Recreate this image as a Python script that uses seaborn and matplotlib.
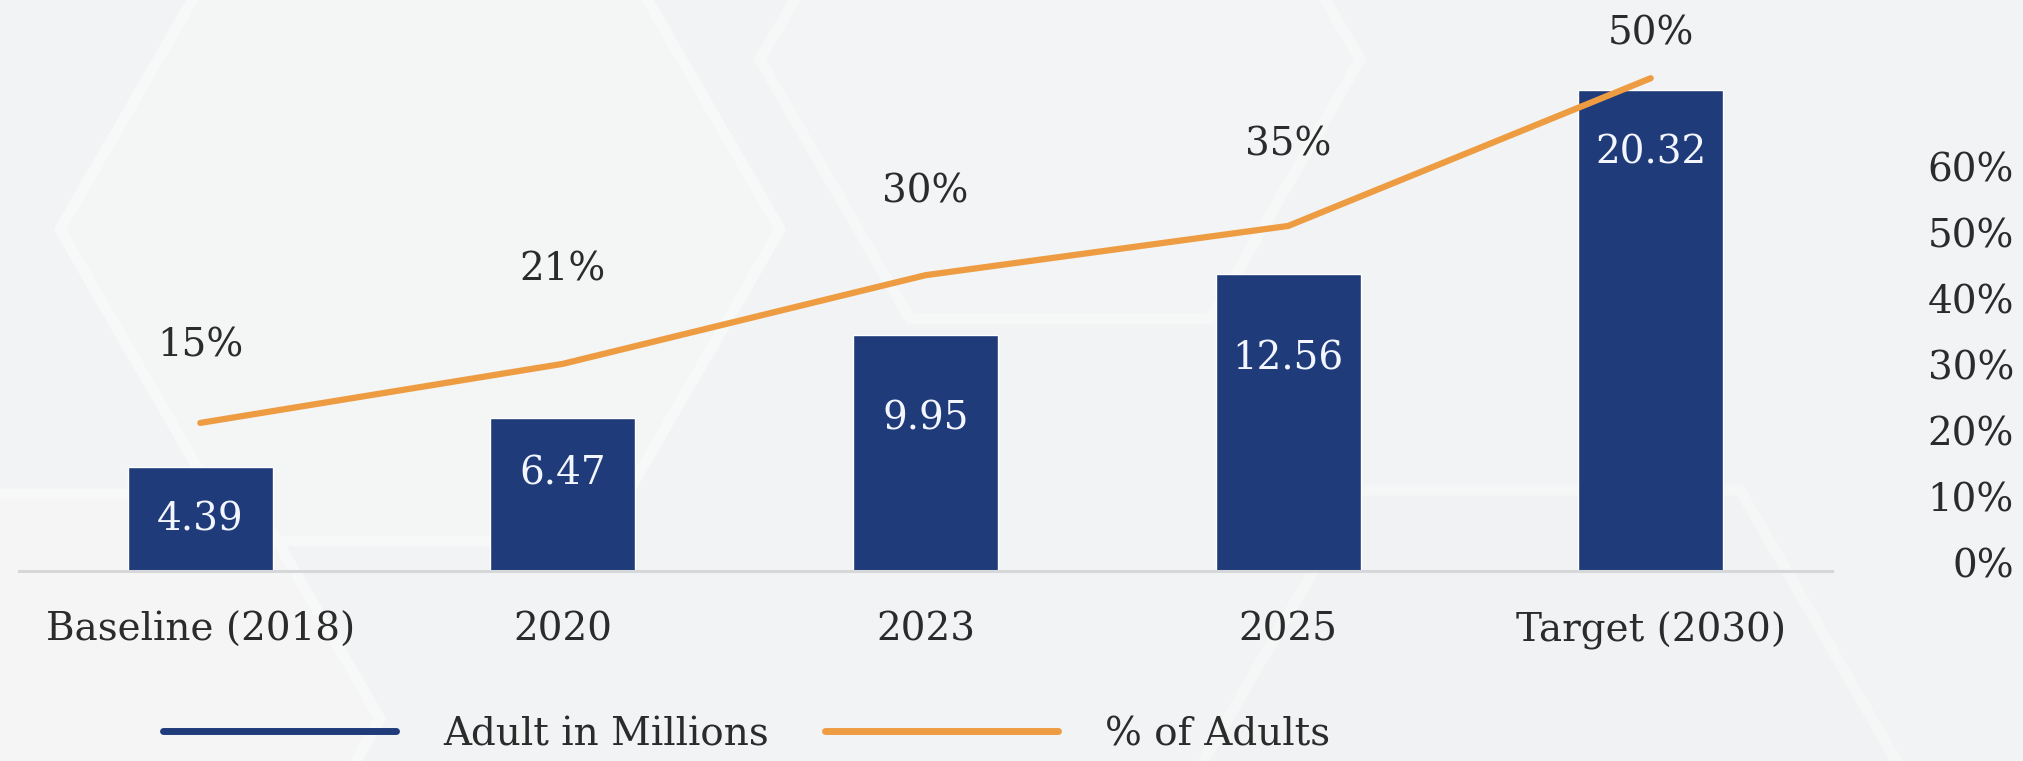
import numpy as np
import matplotlib
matplotlib.use("Agg")
import matplotlib.pyplot as plt
from matplotlib.patches import RegularPolygon
import seaborn as sns

# Data
categories = ["Baseline (2018)", "2020", "2023", "2025", "Target (2030)"]
adults_millions = [4.39, 6.47, 9.95, 12.56, 20.32]
pct_adults = [15, 21, 30, 35, 50]
pct_ticks = [0, 10, 20, 30, 40, 50, 60]

# Label placement (points)
pct_label_offsets = [56, 68, 60, 59, 32]
bar_label_offsets = [38, 40, 60, 61, 45]

BAR_COLOR = "#1f3b7a"
LINE_COLOR = "#ee9c42"
TEXT_COLOR = "#2b2b2b"
BG_COLOR = "#f2f3f4"
FONT = ["DejaVu Serif"]
FS = 28

sns.set_theme(style="white")
plt.rcParams["font.family"] = FONT

fig = plt.figure(figsize=(20.24, 7.615), dpi=100, facecolor=BG_COLOR)

# Soft hexagon backdrop
bg = fig.add_axes([0, 0, 1, 1], zorder=-10)
bg.set_xlim(0, 2024)
bg.set_ylim(762, 0)
bg.axis("off")
bg.set_facecolor(BG_COLOR)
for (cx, cy, r, fc, ec) in [
    (420, 230, 360, "#f4f5f5", "#f7f8f8"),
    (1060, 60, 300, "#f3f4f5", "#f6f7f7"),
    (120, 720, 260, "#f5f5f6", "#f7f8f8"),
    (1550, 820, 380, "#f1f2f3", "#f5f6f6"),
]:
    bg.add_patch(RegularPolygon((cx, cy), numVertices=6, radius=r,
                                orientation=np.pi / 6, facecolor=fc,
                                edgecolor=ec, linewidth=8))

# Main axes: bars
ax = fig.add_axes([19 / 2024, 0.25, 1813 / 2024, 0.6828])
ax.set_facecolor("none")
sns.barplot(x=categories, y=adults_millions, color=BAR_COLOR, width=0.4,
            saturation=1, ax=ax, zorder=2)
ax.set_xlim(-0.5, 4.5)
ax.set_ylim(0, 22)
ax.set_ylabel("")
ax.set_yticks([])
for side in ["left", "right", "top"]:
    ax.spines[side].set_visible(False)
ax.spines["bottom"].set_color("#d6d7d9")
ax.spines["bottom"].set_linewidth(2.2)
ax.tick_params(axis="x", length=0, pad=29, labelsize=FS, labelcolor=TEXT_COLOR)

for i, (v, off) in enumerate(zip(adults_millions, bar_label_offsets)):
    ax.annotate(f"{v:.2f}", (i, v), xytext=(0, -off), textcoords="offset points",
                ha="center", va="center", fontsize=FS, color="#f3f6ff", zorder=5)

# Secondary axes: percentage line
ax2 = ax.twinx()
sns.lineplot(x=categories, y=pct_adults, sort=False, color=LINE_COLOR,
             linewidth=4.5, ax=ax2, zorder=3)
ax2.set_ylim(0, 52.8)
ax2.set_yticks([])
ax2.set_ylabel("")
for side in ["left", "right", "top", "bottom"]:
    ax2.spines[side].set_visible(False)

for i, (v, off) in enumerate(zip(pct_adults, pct_label_offsets)):
    ax2.annotate(f"{v}%", (i, v), xytext=(0, off), textcoords="offset points",
                 ha="center", va="center", fontsize=FS, color=TEXT_COLOR)

# Percentage scale on the right
ax3 = fig.add_axes([2014 / 2024, (762 - 563) / 762, 0.001, (563 - 167) / 762])
ax3.set_facecolor("none")
ax3.set_ylim(0, 60)
ax3.set_yticks(pct_ticks)
ax3.set_yticklabels([f"{t}%" for t in pct_ticks])
ax3.set_xticks([])
ax3.tick_params(axis="y", length=0, pad=0, labelsize=FS, labelcolor=TEXT_COLOR)
for side in ["left", "right", "top", "bottom"]:
    ax3.spines[side].set_visible(False)

# Legend
handles = [
    plt.Line2D([], [], color=BAR_COLOR, linewidth=5),
    plt.Line2D([], [], color=LINE_COLOR, linewidth=5),
]
fig.legend(handles, ["Adult in Millions", "% of Adults"], loc="center left",
           bbox_to_anchor=(163 / 2024, 1 - 735 / 762), ncol=2, frameon=False,
           fontsize=FS, handlelength=6.0, handletextpad=1.2, columnspacing=1.45,
           borderpad=0, borderaxespad=0, labelcolor=TEXT_COLOR)

fig.savefig("out.png", dpi=100, facecolor=BG_COLOR)
